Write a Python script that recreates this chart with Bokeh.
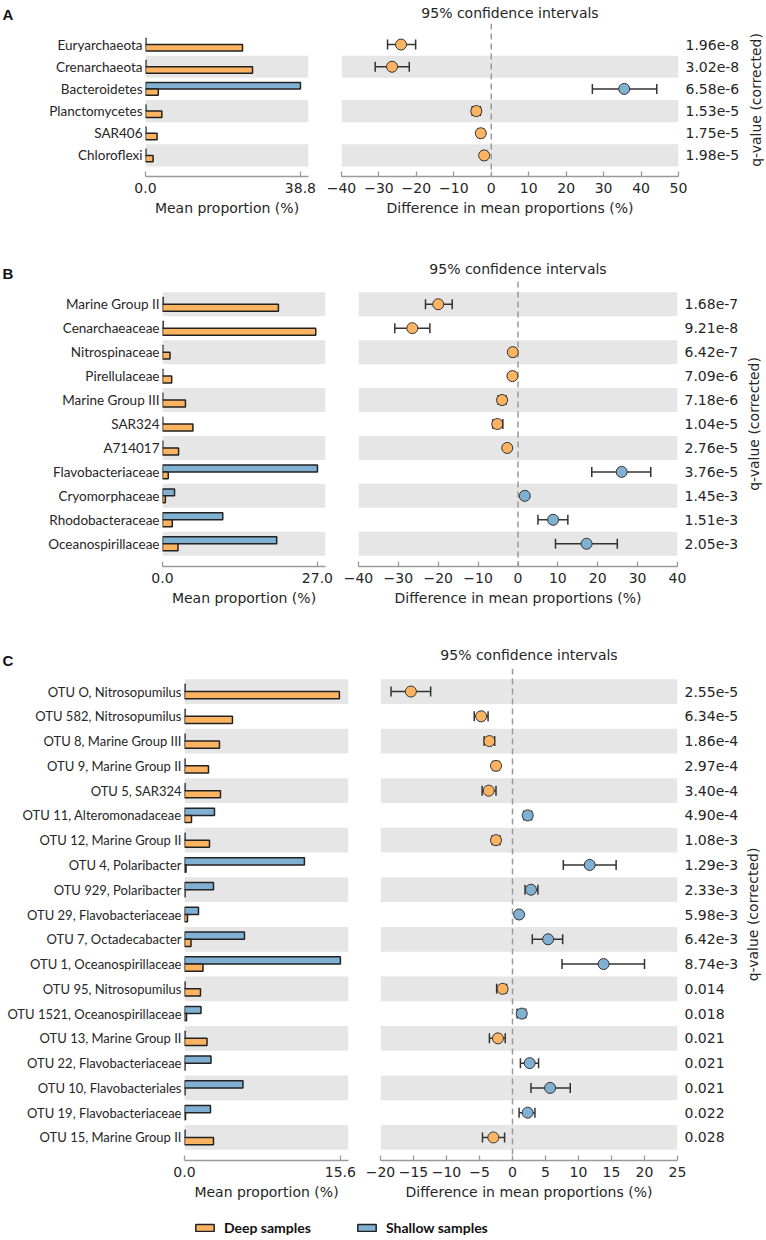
import math
from bokeh.plotting import figure
from bokeh.models import (Range1d, FixedTicker, ColumnDataSource, Whisker, TeeHead, Span,
                          Legend, LegendItem, PrintfTickFormatter)
from bokeh.layouts import row, column
from bokeh.transform import dodge
from bokeh.embed import file_html
from bokeh.resources import INLINE

ORANGE = "#FDB462"
BLUE = "#80B1D3"
GREY = "#E6E6E6"
EDGE = "#222222"
TXT = "#262626"
AXC = "#9A9A9A"

# ---------------- Panel A ----------------
cats_a = ["Euryarchaeota", "Crenarchaeota", "Bacteroidetes", "Planctomycetes", "SAR406", "Chloroflexi"]
deep_a = [24.3, 26.8, 3.2, 4.1, 2.9, 1.9]
shallow_a = [0.1, 0.1, 38.8, 0.1, 0.1, 0.1]
diff_a = [-24.1, -26.5, 35.5, -4.0, -2.8, -1.9]
lo_a = [-27.7, -31.0, 27.0, -5.1, -3.6, -2.6]
hi_a = [-20.2, -21.9, 44.2, -2.9, -2.0, -1.2]
q_a = ["1.96e-8", "3.02e-8", "6.58e-6", "1.53e-5", "1.75e-5", "1.98e-5"]
ci_ticks_a = [-40, -30, -20, -10, 0, 10, 20, 30, 40, 50]

# ---------------- Panel B ----------------
cats_b = ["Marine Group II", "Cenarchaeaceae", "Nitrospinaceae", "Pirellulaceae", "Marine Group III",
          "SAR324", "A714017", "Flavobacteriaceae", "Cryomorphaceae", "Rhodobacteraceae", "Oceanospirillaceae"]
deep_b = [20.2, 26.7, 1.3, 1.6, 4.0, 5.3, 2.8, 1.0, 0.5, 1.7, 2.7]
shallow_b = [0.1, 0.1, 0.05, 0.05, 0.05, 0.05, 0.05, 27.0, 2.1, 10.5, 19.9]
diff_b = [-20.0, -26.5, -1.3, -1.4, -4.0, -5.2, -2.7, 26.0, 1.7, 8.8, 17.2]
lo_b = [-23.2, -30.9, -1.9, -2.0, -5.0, -6.3, -3.3, 18.5, 1.1, 5.0, 9.4]
hi_b = [-16.5, -22.1, -0.7, -0.8, -3.0, -3.8, -2.1, 33.3, 2.3, 12.5, 24.9]
q_b = ["1.68e-7", "9.21e-8", "6.42e-7", "7.09e-6", "7.18e-6", "1.04e-5", "2.76e-5",
       "3.76e-5", "1.45e-3", "1.51e-3", "2.05e-3"]
ci_ticks_b = [-40, -30, -20, -10, 0, 10, 20, 30, 40]

# ---------------- Panel C ----------------
cats_c = ["OTU O, Nitrosopumilus", "OTU 582, Nitrosopumilus", "OTU 8, Marine Group III",
          "OTU 9, Marine Group II", "OTU 5, SAR324", "OTU 11, Alteromonadaceae",
          "OTU 12, Marine Group II", "OTU 4, Polaribacter", "OTU 929, Polaribacter",
          "OTU 29, Flavobacteriaceae", "OTU 7, Octadecabacter", "OTU 1, Oceanospirillaceae",
          "OTU 95, Nitrosopumilus", "OTU 1521, Oceanospirillaceae", "OTU 13, Marine Group II",
          "OTU 22, Flavobacteriaceae", "OTU 10, Flavobacteriales", "OTU 19, Flavobacteriaceae",
          "OTU 15, Marine Group II"]
deep_c = [15.5, 4.8, 3.5, 2.4, 3.6, 0.7, 2.5, 0.15, 0.05, 0.3, 0.65, 1.85, 1.6, 0.2, 2.25,
          0.05, 0.05, 0.1, 2.9]
shallow_c = [0.05, 0.05, 0.05, 0.05, 0.05, 3.0, 0.05, 12.0, 2.9, 1.4, 6.0, 15.6, 0.05, 1.65,
             0.05, 2.65, 5.85, 2.6, 0.05]
diff_c = [-15.4, -4.75, -3.5, -2.5, -3.6, 2.3, -2.5, 11.7, 2.8, 1.0, 5.4, 13.8, -1.5, 1.4,
          -2.2, 2.6, 5.7, 2.3, -2.9]
lo_c = [-18.4, -5.8, -4.3, -3.0, -4.6, 1.7, -3.1, 7.7, 1.9, 0.7, 3.0, 7.5, -2.4, 0.7,
        -3.5, 1.2, 2.8, 1.0, -4.55]
hi_c = [-12.4, -3.7, -2.7, -2.0, -2.5, 2.9, -1.9, 15.7, 3.85, 1.3, 7.6, 20.0, -0.9, 2.0,
        -1.1, 3.95, 8.75, 3.4, -1.2]
q_c = ["2.55e-5", "6.34e-5", "1.86e-4", "2.97e-4", "3.40e-4", "4.90e-4", "1.08e-3", "1.29e-3",
       "2.33e-3", "5.98e-3", "6.42e-3", "8.74e-3", "0.014", "0.018", "0.021", "0.021", "0.021",
       "0.022", "0.028"]
ci_ticks_c = [-20, -15, -10, -5, 0, 5, 10, 15, 20, 25]

legend_labels = ["Deep samples", "Shallow samples"]
ci_title = "95% confidence intervals"
bar_xlabel = "Mean proportion (%)"
ci_xlabel = "Difference in mean proportions (%)"
q_label = "q-value (corrected)"

BAR_HEADROOM = 1.052


def style_xaxis(ax, label):
    ax.axis_label = label
    ax.axis_label_text_font = "DejaVu Sans"
    ax.axis_label_text_font_size = "14px"
    ax.axis_label_text_font_style = "normal"
    ax.axis_label_text_color = TXT
    ax.axis_label_standoff = 4
    ax.major_label_text_font = "DejaVu Sans"
    ax.major_label_text_font_size = "14px"
    ax.major_label_text_color = TXT
    ax.major_label_standoff = 6
    ax.axis_line_color = AXC
    ax.axis_line_width = 1.3
    ax.major_tick_line_color = AXC
    ax.major_tick_line_width = 1.3
    ax.major_tick_in = 5
    ax.major_tick_out = 0
    ax.minor_tick_line_color = None


def bare_axis(ax):
    ax.axis_line_color = None
    ax.major_tick_line_color = None
    ax.minor_tick_line_color = None
    ax.major_tick_in = 0
    ax.major_tick_out = 0


def panel(cats, deep, shallow, diff, lo, hi, q, ci_ticks, letter, G):
    n = len(cats)
    ys = [n - 1 - i for i in range(n)]
    pad = G["pad"]
    yr = (-0.5 - pad, n - 0.5 + pad)
    band_ys = [y for y in ys if y % 2 == 0]
    xmax = max(max(deep), max(shallow))
    bar_end = xmax * BAR_HEADROOM
    colors = [BLUE if d > 0 else ORANGE for d in diff]
    src = ColumnDataSource(dict(y=ys, deep=deep, shallow=shallow, diff=diff, lo=lo, hi=hi, color=colors))
    common = dict(height=G["h"], output_backend="svg", toolbar_location=None,
                  min_border_top=G["top"], min_border_bottom=G["bottom"])

    # ---- mean proportion bars ----
    b = figure(width=G["bar_w"], x_range=Range1d(0, bar_end), y_range=Range1d(*yr),
               min_border_left=G["bar_left"], min_border_right=G["bar_w"] - G["bar_left"] - G["bar_frame"],
               **common)
    b.outline_line_color = None
    b.grid.visible = False
    b.hbar(y=band_ys, left=0, right=bar_end, height=1, fill_color=GREY, line_color=None, level="image")
    b.hbar(y=dodge("y", 0.145), left=0, right="shallow", height=0.29, fill_color=BLUE,
           line_color=EDGE, line_width=1.5, source=src)
    b.hbar(y=dodge("y", -0.145), left=0, right="deep", height=0.29, fill_color=ORANGE,
           line_color=EDGE, line_width=1.5, source=src)
    ya = b.yaxis[0]
    bare_axis(ya)
    ya.ticker = FixedTicker(ticks=ys)
    ya.major_label_overrides = {y: c for y, c in zip(ys, cats)}
    ya.major_label_standoff = 3
    ya.major_label_text_font = "Lato"
    ya.major_label_text_font_size = G["cat_fs"]
    ya.major_label_text_color = TXT
    xa = b.xaxis[0]
    xa.ticker = FixedTicker(ticks=[0, xmax])
    xa.formatter = PrintfTickFormatter(format="%.1f")
    style_xaxis(xa, bar_xlabel)
    b.title.text = letter
    b.title.align = "left"
    b.title.offset = -G["bar_left"] + 2
    b.title.standoff = G["letter_s"]
    b.title.text_font = "Liberation Sans"
    b.title.text_font_style = "bold"
    b.title.text_font_size = "15px"
    b.title.text_color = "#111111"

    # ---- confidence intervals ----
    lim = G["ci_lim"]
    c = figure(width=G["ci_w"], x_range=Range1d(*lim), y_range=Range1d(*yr), y_axis_location="right",
               min_border_left=G["ci_left"], min_border_right=G["ci_w"] - G["ci_left"] - G["ci_frame"],
               **common)
    c.outline_line_color = None
    c.grid.visible = False
    c.hbar(y=band_ys, left=lim[0], right=lim[1], height=1, fill_color=GREY, line_color=None, level="image")
    c.add_layout(Span(location=0, dimension="height", line_color="#999999", line_dash="6 4",
                      line_width=1.5, level="underlay"))
    w = Whisker(source=src, base="y", lower="lo", upper="hi", dimension="width",
                line_color="#333333", line_width=1.5, level="underlay",
                upper_head=TeeHead(size=10, line_color="#333333", line_width=1.5),
                lower_head=TeeHead(size=10, line_color="#333333", line_width=1.5))
    c.add_layout(w)
    c.scatter(x="diff", y="y", size=11, marker="circle", fill_color="color",
              line_color="#333333", line_width=1, source=src)
    xa = c.xaxis[0]
    xa.ticker = FixedTicker(ticks=ci_ticks)
    xa.major_label_overrides = {t: str(t).replace("-", "\u2212") for t in ci_ticks}
    style_xaxis(xa, ci_xlabel)
    qa = c.yaxis[0]
    bare_axis(qa)
    qa.ticker = FixedTicker(ticks=ys)
    qa.major_label_overrides = {y: s for y, s in zip(ys, q)}
    qa.major_label_standoff = 7
    qa.major_label_text_font = "DejaVu Sans"
    qa.major_label_text_font_size = "14px"
    qa.major_label_text_color = TXT
    c.title.text = ci_title
    c.title.align = "center"
    c.title.standoff = G["title_s"]
    c.title.text_font = "DejaVu Sans"
    c.title.text_font_style = "normal"
    c.title.text_font_size = "14px"
    c.title.text_color = TXT

    # ---- narrow strip carrying the rotated q-value axis title ----
    qf = figure(width=G["qf_w"], x_range=Range1d(0, 1), y_range=Range1d(*yr),
                min_border_left=G["qf_w"] - 1, min_border_right=0, x_axis_location=None, **common)
    qf.outline_line_color = None
    qf.grid.visible = False
    la = qf.yaxis[0]
    bare_axis(la)
    la.ticker = FixedTicker(ticks=[])
    la.axis_label = q_label
    la.axis_label_text_font = "DejaVu Sans"
    la.axis_label_text_font_size = "14px"
    la.axis_label_text_font_style = "normal"
    la.axis_label_text_color = TXT
    la.axis_label_standoff = G["qs"]
    return row(b, c, qf)


GA = dict(h=250, top=22, bottom=74, bar_w=322, bar_left=145, bar_frame=163, cat_fs="13.5px",
          ci_w=420, ci_left=19, ci_frame=339, qf_w=22, pad=0.45, title_s=5, letter_s=2, qs=0,
          ci_lim=(-40, 50))
GB = dict(h=380, top=31, bottom=64, bar_w=338, bar_left=162, bar_frame=163, cat_fs="13.5px",
          ci_w=404, ci_left=20, ci_frame=319, qf_w=22, pad=0.45, title_s=9, letter_s=0, qs=2,
          ci_lim=(-40, 40))
GC = dict(h=582, top=38, bottom=52, bar_w=358, bar_left=184, bar_frame=164, cat_fs="13px",
          ci_w=384, ci_left=22, ci_frame=297, qf_w=22, pad=0.43, title_s=11, letter_s=0, qs=4,
          ci_lim=(-20, 25))

ra = panel(cats_a, deep_a, shallow_a, diff_a, lo_a, hi_a, q_a, ci_ticks_a, "A", GA)
rb = panel(cats_b, deep_b, shallow_b, diff_b, lo_b, hi_b, q_b, ci_ticks_b, "B", GB)
rc = panel(cats_c, deep_c, shallow_c, diff_c, lo_c, hi_c, q_c, ci_ticks_c, "C", GC)

# legend strip: hidden key renderers supply the swatches
lg = figure(width=764, height=24, x_range=Range1d(0, 1), y_range=Range1d(0, 1),
            output_backend="svg", toolbar_location=None, min_border=0,
            x_axis_location=None, y_axis_location=None)
lg.outline_line_color = None
lg.grid.visible = False
key_src = ColumnDataSource(dict(y=[0.5], left=[0], right=[1]))
r_deep = lg.hbar(y="y", left="left", right="right", height=1, fill_color=ORANGE, line_color=EDGE,
                 line_width=1.5, source=key_src)
r_shal = lg.hbar(y="y", left="left", right="right", height=1, fill_color=BLUE, line_color=EDGE,
                 line_width=1.5, source=key_src)
r_deep.visible = False
r_shal.visible = False
leg = Legend(items=[LegendItem(label=legend_labels[0], renderers=[r_deep]),
                    LegendItem(label=legend_labels[1], renderers=[r_shal])],
             orientation="horizontal", location=(193, 0), glyph_width=23, glyph_height=9,
             label_standoff=8, spacing=44, padding=0, margin=0, label_height=16,
             border_line_color=None, background_fill_alpha=0, inactive_fill_alpha=0,
             label_text_font="Lato", label_text_font_style="bold", label_text_font_size="14px",
             label_text_color="#111111")
lg.add_layout(leg)

page = column(ra, rb, rc, lg)
open("out.html", "w").write(file_html(page, INLINE))
